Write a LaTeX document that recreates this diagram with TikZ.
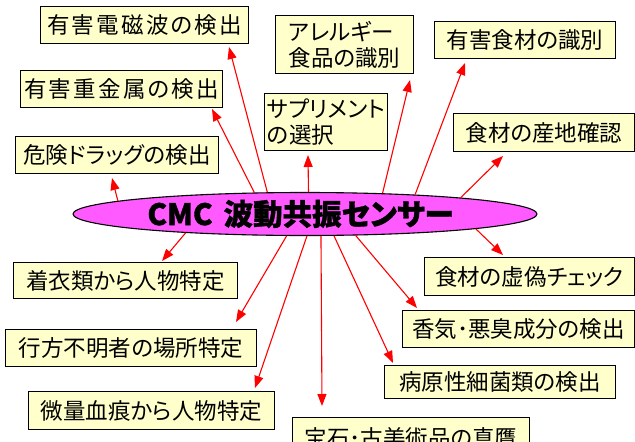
\documentclass[tikz,border=0pt]{standalone}
\usepackage{fontspec}
\setmainfont{Noto Sans CJK JP}[RawFeature=+palt]
\usetikzlibrary{shapes.geometric,arrows.meta}
\definecolor{boxfill}{RGB}{255,255,204}
\definecolor{cmcfill}{RGB}{255,90,255}
\begin{document}
\begin{tikzpicture}[x=1pt,y=-1pt,
  box/.style={draw=black,line width=1pt,fill=boxfill,inner sep=0pt,anchor=north west,
    font=\fontsize{22.5}{26}\selectfont,align=left},
  wide/.style={font=\fontsize{22.5}{26}\selectfont\addfontfeature{LetterSpace=10}},
  arr/.style={draw=red,line width=1.1pt,-{Triangle[length=12pt,width=9pt,fill=red]}}]
\useasboundingbox (0,0) rectangle (635,442);
\fill[white] (0,0) rectangle (635,442);
% boxes
\node[box,wide,minimum width=208pt,minimum height=37pt] (b1) at (40,6) {有害電磁波の検出};
\node[box,wide,minimum width=202pt,minimum height=37pt] (b2) at (20,70) {有害重金属の検出};
\node[box,minimum width=203pt,minimum height=37pt] (b3) at (15,136) {危険ドラッグの検出};
\node[box,minimum width=138pt,minimum height=58pt] (b4) at (275,15) {アレルギー\\食品の識別};
\node[box,minimum width=181pt,minimum height=37pt] (b5) at (434,21) {有害食材の識別};
\node[box,minimum width=123pt,minimum height=57pt] (b6) at (264,93) {サプリメント\\の選択};
\node[box,minimum width=181pt,minimum height=38pt] (b7) at (453,113) {食材の産地確認};
\node[box,minimum width=224pt,minimum height=36pt] (b8) at (13,262) {着衣類から人物特定};
\node[box,minimum width=210pt,minimum height=38pt] (b9) at (424,257) {食材の虚偽チェック};
\node[box,minimum width=251pt,minimum height=37pt] (b10) at (5,329) {行方不明者の場所特定};
\node[box,minimum width=246pt,minimum height=38pt] (b11) at (28,391) {微量血痕から人物特定};
\node[box,minimum width=232pt,minimum height=37pt] (b12) at (402,310) {香気･悪臭成分の検出};
\node[box,minimum width=231pt,minimum height=33pt] (b13) at (384,365) {病原性細菌類の検出};
\node[box,minimum width=237pt,minimum height=40pt] (b14) at (292,417) {宝石･古美術品の真贋};
% centre ellipse
\node[ellipse,draw=black,line width=1.1pt,fill=cmcfill,minimum width=464pt,minimum height=43pt,inner sep=0pt] (cmc) at (305,214) {};
\node[font=\fontsize{29.5}{31}\selectfont\bfseries\addfontfeature{FakeBold=1.2},inner sep=0pt] (cmct) at (300.5,214) {CMC\hspace{11pt}波動共振センサー};
% arrow tips
\coordinate (t1) at (229,47);
\coordinate (t2) at (212,109);
\coordinate (t3) at (112,178);
\coordinate (t4) at (410,80);
\coordinate (t5) at (465,63);
\coordinate (t6) at (308,155);
\coordinate (t7) at (503,156);
\coordinate (t8) at (162,261);
\coordinate (t9) at (503,255);
\coordinate (t10) at (236,322);
\coordinate (t11) at (255,388);
\coordinate (t12) at (417,308);
\coordinate (t13) at (393,363);
\coordinate (t14) at (322,406);
% connectors
\draw[arr] (cmc.150.3) -- (t1);
\draw[arr] (cmc.157) -- (t2);
\draw[arr] (cmc.176.5) -- (t3);
\draw[arr] (cmc.15.5) -- (t4);
\draw[arr] (cmc.10.5) -- (t5);
\draw[arr] (cmc.81.5) -- (t6);
\draw[arr] (cmc.6.4) -- (t7);
\draw[arr] (cmc.-5.9) -- (t9);
\draw[arr] (cmc.189.5) -- (t8);
\draw[arr] (cmc.230.8) -- (t10);
\draw[arr] (cmc.275) -- (t11);
\draw[arr] (cmc.306.5) -- (t14);
\draw[arr] (cmc.323.4) -- (t13);
\draw[arr] (cmc.337.3) -- (t12);
\end{tikzpicture}
\end{document}
